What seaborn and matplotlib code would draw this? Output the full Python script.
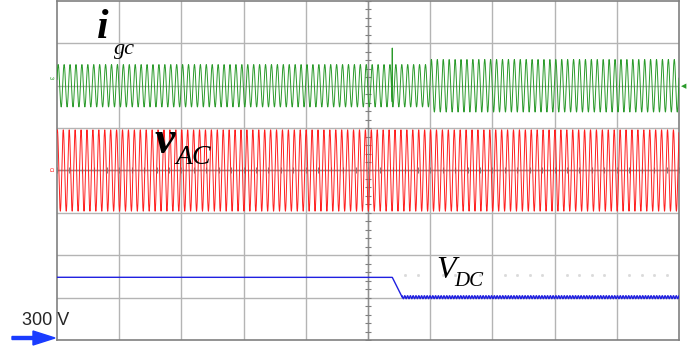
import numpy as np
import pandas as pd
import seaborn as sns
import matplotlib.pyplot as plt
from matplotlib.patches import FancyArrow

sns.set_theme(style="white")
plt.rcParams['font.family'] = ['DejaVu Sans']

# ---- values (units: screen divisions) ----
n_div_x = 10
n_div_y = 8
cycles_per_div = 10.5

igc_center = 6.0
igc_amp_before = 0.50
igc_amp_after = 0.62
igc_step_time = 6.0
igc_spike_time = 5.39
igc_spike_top = 6.89

vac_center = 4.0
vac_amp = 0.96

vdc_before = 1.48
vdc_after = 1.01
vdc_drop_start = 5.39
vdc_drop_end = 5.55
vdc_ripple = 0.035
vdc_ripple_period = 0.045

scale_label = "300 V"

# ---- waveforms ----
t = np.linspace(0, n_div_x, 24000)
igc_amp = np.where(t < igc_step_time, igc_amp_before, igc_amp_after)
igc = igc_center + igc_amp * np.sin(2 * np.pi * cycles_per_div * t + 0.3)
k = np.argmin(np.abs(t - igc_spike_time))
igc[k] = igc_spike_top

vac = vac_center + vac_amp * np.sin(2 * np.pi * cycles_per_div * t + 1.2)

vdc = np.interp(t, [0, vdc_drop_start, vdc_drop_end, n_div_x],
                [vdc_before, vdc_before, vdc_after, vdc_after])
vdc = vdc + np.where(t > vdc_drop_end,
                     vdc_ripple * np.sin(2 * np.pi * t / vdc_ripple_period), 0)

df = pd.DataFrame({"t": t, "igc": igc, "vac": vac, "vdc": vdc})

W, H = 699, 346
fig = plt.figure(figsize=(W / 100, H / 100), dpi=100)
ax = fig.add_axes([57 / W, 6 / H, 622 / W, 339 / H])

grid_c = "#b4b4b4"
for xv in range(1, n_div_x):
    ax.axvline(xv, color=grid_c, lw=1.0, zorder=0)
for yv in range(1, n_div_y):
    ax.axhline(yv, color=grid_c, lw=1.0, zorder=0)

# centre axes with minor ticks
minor = np.arange(0, n_div_x + 0.001, 0.2)
ax.plot(minor, np.full_like(minor, 4.0), ls='none', marker='|', ms=4,
        color='#808080', mew=0.8, zorder=1)
minory = np.arange(0, n_div_y + 0.001, 0.2)
ax.plot(np.full_like(minory, 5.0), minory, ls='none', marker='_', ms=4,
        color='#808080', mew=0.8, zorder=1)
ax.axvline(5, color='#909090', lw=1.0, zorder=0)
ax.axhline(4, color='#909090', lw=1.0, zorder=0)

# faint trigger dots
dots = np.array([x for x in np.arange(5.6, 10, 0.2) if abs(x - round(x)) > 0.05])
ax.plot(dots, np.full_like(dots, 1.53), ls='none', marker='s', ms=1.0,
        color='#dadada', zorder=1)

sns.lineplot(data=df, x="t", y="igc", ax=ax, color="#2a9a2a", lw=0.7,
             estimator=None, zorder=3)
sns.lineplot(data=df, x="t", y="vac", ax=ax, color="#ff1e1e", lw=0.7,
             estimator=None, zorder=3)
sns.lineplot(data=df, x="t", y="vdc", ax=ax, color="#2020e0", lw=1.0,
             estimator=None, zorder=3)

ax.set_xlim(0, n_div_x)
ax.set_ylim(0, n_div_y)
ax.set_xticks([])
ax.set_yticks([])
ax.set_xlabel("")
ax.set_ylabel("")
for s in ax.spines.values():
    s.set_color("#808080")
    s.set_linewidth(1.2)

serif = ['Liberation Serif', 'DejaVu Serif']
def ftext(x, y, s, size, weight='normal'):
    fig.text(x / W, 1 - y / H, s, fontsize=size, family=serif, style='italic',
             weight=weight, va='baseline', ha='left', color='black', zorder=5)

ftext(97, 38, "i", 30, 'bold')
ftext(114, 54, "gc", 16)
ftext(155, 153, "v", 33, 'bold')
ftext(176, 164, "AC", 20)
ftext(436, 278, "V", 23)
ftext(454, 286, "DC", 15)

fig.text(22 / W, 1 - 325 / H, scale_label, fontsize=13,
         family=['Liberation Sans', 'DejaVu Sans'], va='baseline', ha='left')
fig.patches.append(FancyArrow(12 / W, 1 - 338 / H, 43 / W, 0, width=3 / H,
                              head_width=14 / H, head_length=22 / W,
                              length_includes_head=True, color='#1a3cff',
                              transform=fig.transFigure, figure=fig))
fig.text(50 / W, 1 - 80 / H, "ω", fontsize=4, color="#2a9a2a")
fig.text(50 / W, 1 - 172 / H, "Ω", fontsize=4, color="#ff1e1e")
fig.text(681 / W, 1 - 88 / H, "◀", fontsize=5, color="#2a9a2a",
         family=['DejaVu Sans'])

fig.savefig("out.png", dpi=100, facecolor="white")
